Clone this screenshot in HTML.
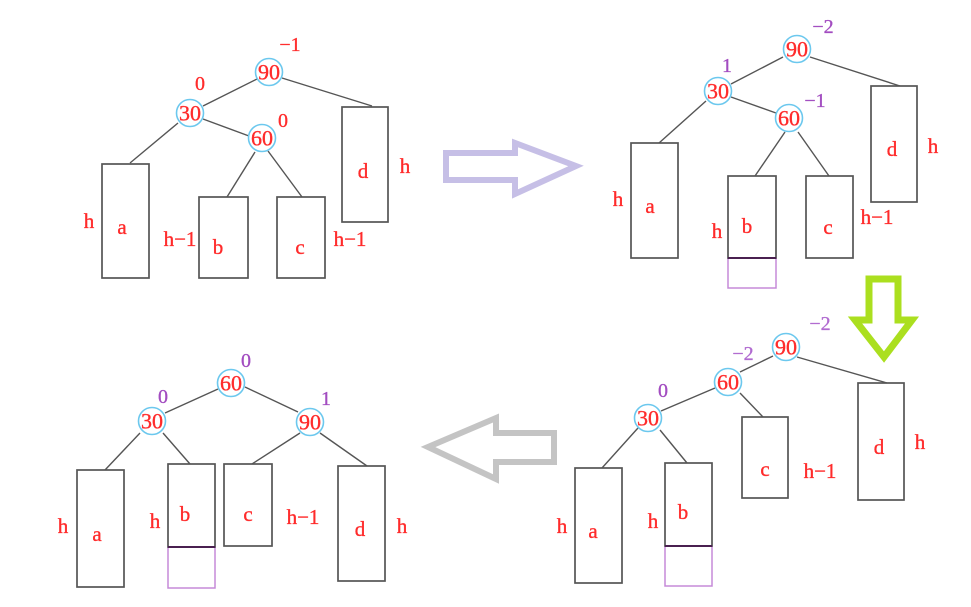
<!DOCTYPE html>
<html><head><meta charset="utf-8"><style>
html,body{margin:0;padding:0;background:#fff;}
svg{display:block;}
text{font-family:"Liberation Serif","DejaVu Serif",serif;}
.r{fill:#ff2b2b;stroke:#ff2b2b;stroke-width:0.35;font-size:21px;text-anchor:middle;dominant-baseline:central;}
.n{fill:#ff2b2b;stroke:#ff2b2b;stroke-width:0.35;font-size:22px;text-anchor:middle;dominant-baseline:central;}
.p{fill:#a24cc0;stroke:#a24cc0;stroke-width:0.3;font-size:20px;text-anchor:middle;dominant-baseline:central;}
.pr{fill:#ff2b2b;stroke:#ff2b2b;stroke-width:0.3;font-size:20px;text-anchor:middle;dominant-baseline:central;}
.c{fill:none;stroke:#6cc8ee;stroke-width:1.6;}
.e{stroke:#555;stroke-width:1.4;fill:none;}
.b{stroke:#555;stroke-width:1.7;fill:none;}
.pb{stroke:#c58ad8;stroke-width:1.5;fill:none;}
.dl{stroke:#4a2050;stroke-width:2;}
</style></head><body>
<svg width="971" height="607" viewBox="0 0 971 607" xmlns="http://www.w3.org/2000/svg">
<!-- Arrows -->
<polygon points="446,153 515,153 515,143 576,166 515,194 515,180 446,180" fill="none" stroke="#c6bfe6" stroke-width="6" stroke-linejoin="miter"/>
<polygon points="554,433 496,433 496,418 428,447 496,479 496,462 554,462" fill="none" stroke="#c4c4c4" stroke-width="6" stroke-linejoin="miter"/>
<polygon points="869,279 898,279 898,320 912,320 884,357 855,320 869,320" fill="none" stroke="#abdf1f" stroke-width="7" stroke-linejoin="miter"/>

<!-- Tree 1 -->
<line class="e" x1="282" y1="78" x2="372" y2="106"/>
<line class="e" x1="257" y1="79" x2="203" y2="106"/>
<line class="e" x1="178" y1="123" x2="130" y2="163"/>
<line class="e" x1="203" y1="119" x2="249" y2="136"/>
<line class="e" x1="255" y1="152" x2="227" y2="197"/>
<line class="e" x1="268" y1="151" x2="302" y2="197"/>
<rect class="b" x="342" y="107" width="46" height="115"/>
<rect class="b" x="102" y="164" width="47" height="114"/>
<rect class="b" x="199" y="197" width="49" height="81"/>
<rect class="b" x="277" y="197" width="48" height="81"/>
<circle class="c" cx="269" cy="72" r="13.5"/>
<circle class="c" cx="190" cy="113" r="13.5"/>
<circle class="c" cx="262" cy="138" r="13.5"/>
<text class="n" x="269" y="72">90</text>
<text class="n" x="190" y="113">30</text>
<text class="n" x="262" y="138">60</text>
<text class="pr" x="290" y="45">−1</text>
<text class="pr" x="200" y="84">0</text>
<text class="pr" x="283" y="121">0</text>
<text class="r" x="363" y="171">d</text>
<text class="r" x="405" y="166">h</text>
<text class="r" x="122" y="227">a</text>
<text class="r" x="89" y="221">h</text>
<text class="r" x="180" y="239">h−1</text>
<text class="r" x="218" y="247">b</text>
<text class="r" x="300" y="247">c</text>
<text class="r" x="350" y="239">h−1</text>

<!-- Tree 2 -->
<line class="e" x1="810" y1="57" x2="900" y2="86"/>
<line class="e" x1="783" y1="57" x2="731" y2="84"/>
<line class="e" x1="706" y1="101" x2="659" y2="143"/>
<line class="e" x1="731" y1="97" x2="776" y2="113"/>
<line class="e" x1="785" y1="132" x2="755" y2="176"/>
<line class="e" x1="798" y1="132" x2="829" y2="176"/>
<rect class="b" x="871" y="86" width="46" height="116"/>
<rect class="b" x="631" y="143" width="47" height="115"/>
<rect class="pb" x="728" y="258" width="48" height="30"/>
<rect class="b" x="728" y="176" width="48" height="82"/>
<line class="dl" x1="728" y1="258" x2="776" y2="258"/>
<rect class="b" x="806" y="176" width="47" height="82"/>
<circle class="c" cx="797" cy="49" r="13.5"/>
<circle class="c" cx="718" cy="91" r="13.5"/>
<circle class="c" cx="789" cy="118" r="13.5"/>
<text class="n" x="797" y="49">90</text>
<text class="n" x="718" y="91">30</text>
<text class="n" x="789" y="118">60</text>
<text class="p" x="823" y="27">−2</text>
<text class="p" x="727" y="66">1</text>
<text class="p" x="815" y="101">−1</text>
<text class="r" x="892" y="149">d</text>
<text class="r" x="933" y="146">h</text>
<text class="r" x="650" y="206">a</text>
<text class="r" x="618" y="199">h</text>
<text class="r" x="747" y="226">b</text>
<text class="r" x="717" y="231">h</text>
<text class="r" x="828" y="227">c</text>
<text class="r" x="877" y="217">h−1</text>

<!-- Tree 3 (bottom-left) -->
<line class="e" x1="218" y1="389" x2="165" y2="413"/>
<line class="e" x1="245" y1="387" x2="298" y2="412"/>
<line class="e" x1="140" y1="433" x2="105" y2="470"/>
<line class="e" x1="163" y1="433" x2="190" y2="464"/>
<line class="e" x1="300" y1="433" x2="252" y2="464"/>
<line class="e" x1="320" y1="433" x2="367" y2="466"/>
<rect class="b" x="77" y="470" width="47" height="117"/>
<rect class="pb" x="168" y="547" width="47" height="41"/>
<rect class="b" x="168" y="464" width="47" height="83"/>
<line class="dl" x1="168" y1="547" x2="215" y2="547"/>
<rect class="b" x="224" y="464" width="48" height="82"/>
<rect class="b" x="338" y="466" width="47" height="115"/>
<circle class="c" cx="231" cy="383" r="13.5"/>
<circle class="c" cx="152" cy="421" r="13.5"/>
<circle class="c" cx="310" cy="422" r="13.5"/>
<text class="n" x="231" y="383">60</text>
<text class="n" x="152" y="421">30</text>
<text class="n" x="310" y="422">90</text>
<text class="p" x="246" y="361">0</text>
<text class="p" x="163" y="397">0</text>
<text class="p" x="326" y="399">1</text>
<text class="r" x="97" y="534">a</text>
<text class="r" x="63" y="526">h</text>
<text class="r" x="185" y="514">b</text>
<text class="r" x="155" y="521">h</text>
<text class="r" x="248" y="514">c</text>
<text class="r" x="303" y="517">h−1</text>
<text class="r" x="360" y="529">d</text>
<text class="r" x="402" y="526">h</text>

<!-- Tree 4 (bottom-right) -->
<line class="e" x1="773" y1="356" x2="740" y2="372"/>
<line class="e" x1="797" y1="357" x2="887" y2="383"/>
<line class="e" x1="715" y1="388" x2="661" y2="411"/>
<line class="e" x1="740" y1="393" x2="763" y2="417"/>
<line class="e" x1="638" y1="428" x2="602" y2="468"/>
<line class="e" x1="660" y1="430" x2="687" y2="463"/>
<rect class="b" x="858" y="383" width="46" height="117"/>
<rect class="b" x="742" y="417" width="46" height="81"/>
<rect class="b" x="575" y="468" width="47" height="115"/>
<rect class="pb" x="665" y="546" width="47" height="40"/>
<rect class="b" x="665" y="463" width="47" height="83"/>
<line class="dl" x1="665" y1="546" x2="712" y2="546"/>
<circle class="c" cx="786" cy="347" r="13.5"/>
<circle class="c" cx="728" cy="382" r="13.5"/>
<circle class="c" cx="648" cy="418" r="13.5"/>
<text class="n" x="786" y="347">90</text>
<text class="n" x="728" y="382">60</text>
<text class="n" x="648" y="418">30</text>
<text class="p" x="820" y="324" style="fill:#b06ad0;stroke:#b06ad0">−2</text>
<text class="p" x="743" y="354" style="fill:#b06ad0;stroke:#b06ad0">−2</text>
<text class="p" x="663" y="391">0</text>
<text class="r" x="879" y="447">d</text>
<text class="r" x="920" y="442">h</text>
<text class="r" x="765" y="469">c</text>
<text class="r" x="820" y="471">h−1</text>
<text class="r" x="593" y="531">a</text>
<text class="r" x="562" y="526">h</text>
<text class="r" x="683" y="512">b</text>
<text class="r" x="653" y="521">h</text>
</svg>
</body></html>
